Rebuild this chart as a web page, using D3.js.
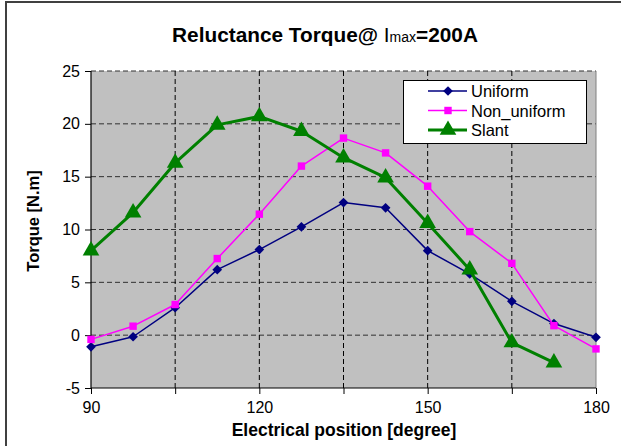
<!DOCTYPE html>
<html>
<head>
<meta charset="utf-8">
<script src="https://cdn.jsdelivr.net/npm/d3@7"></script>
<style>
  body { margin: 0; background: #fff; }
  svg text { font-family: "Liberation Sans", Arial, sans-serif; fill: #000; }
</style>
</head>
<body>
<svg id="chart" width="621" height="446"></svg>
<script>
// данные графика
const positions = [90, 97.5, 105, 112.5, 120, 127.5, 135, 142.5, 150, 157.5, 165, 172.5, 180];
const uniform = [-1.1, -0.15, 2.6, 6.2, 8.1, 10.25, 12.55, 12.05, 8.0, 5.8, 3.2, 1.1, -0.2];
const nonUniform = [-0.4, 0.85, 2.9, 7.25, 11.45, 16.0, 18.65, 17.25, 14.1, 9.8, 6.8, 0.9, -1.3];
const slant = [8.0, 11.6, 16.3, 19.9, 20.7, 19.3, 16.8, 14.9, 10.6, 6.2, -0.7, -2.6];
const yTicks = [-5, 0, 5, 10, 15, 20, 25];
const xTicks = [90, 105, 120, 135, 150, 165, 180];
const xLabels = [90, 120, 150, 180];

const svg = d3.select("#chart");

// рамка всей диаграммы (обрезана справа и снизу)
svg.append("rect")
  .attr("x", 6).attr("y", 2)
  .attr("width", 640).attr("height", 460)
  .attr("fill", "none")
  .attr("stroke", "#404040")
  .attr("stroke-width", 2);

const plotL = 91, plotR = 596, plotT = 71, plotB = 388;

const x = d3.scaleLinear().domain([90, 180]).range([plotL, plotR]);
const y = d3.scaleLinear().domain([-5, 25]).range([plotB, plotT]);

// фон области построения
svg.append("rect")
  .attr("x", plotL).attr("y", plotT)
  .attr("width", plotR - plotL).attr("height", plotB - plotT)
  .attr("fill", "#c0c0c0");

// сетка
svg.append("g")
  .selectAll("line")
  .data(yTicks.filter((d) => d > -5))
  .join("line")
  .attr("x1", plotL).attr("x2", plotR)
  .attr("y1", (d) => y(d)).attr("y2", (d) => y(d))
  .attr("stroke", "#303030")
  .attr("stroke-dasharray", "5,3");

svg.append("g")
  .selectAll("line")
  .data(xTicks.filter((d) => d > 90))
  .join("line")
  .attr("x1", (d) => x(d)).attr("x2", (d) => x(d))
  .attr("y1", plotT).attr("y2", plotB)
  .attr("stroke", (d) => (d === 180 ? "#808080" : "#000"))
  .attr("stroke-dasharray", (d) => (d === 180 ? null : "5,3"));

// оси
const yAxis = svg.append("g")
  .attr("transform", `translate(${plotL},0)`)
  .call(
    d3.axisLeft(y)
      .tickValues(yTicks)
      .tickSize(6)
      .tickPadding(5)
      .tickFormat((d) => String(d))
  );

const xAxis = svg.append("g")
  .attr("transform", `translate(0,${plotB})`)
  .call(
    d3.axisBottom(x)
      .tickValues(xTicks)
      .tickSize(6)
      .tickPadding(8)
      .tickFormat((d) => (xLabels.includes(d) ? d : ""))
  );

[yAxis, xAxis].forEach((g) => {
  g.select(".domain").attr("stroke", "#000").attr("stroke-width", 1.2);
  g.selectAll(".tick line").attr("stroke", "#000");
  g.selectAll("text")
    .attr("font-family", '"Liberation Sans", Arial, sans-serif')
    .attr("font-size", 16)
    .attr("fill", "#000");
});
yAxis.select(".domain").attr("d", `M0,${plotB}V${plotT}`);
xAxis.select(".domain").attr("d", `M${plotL},0H${plotR}`);

// заголовки
const title = svg.append("text")
  .attr("x", 325).attr("y", 42)
  .attr("text-anchor", "middle")
  .attr("font-size", 20.8)
  .attr("font-weight", "bold");
title.append("tspan").text("Reluctance Torque@ ");
title.append("tspan").attr("font-weight", "normal").text("I");
title.append("tspan").attr("font-weight", "normal").attr("font-size", 14).text("max");
title.append("tspan").text("=200A");

svg.append("text")
  .attr("x", 344).attr("y", 436)
  .attr("text-anchor", "middle")
  .attr("font-size", 17.5)
  .attr("font-weight", "bold")
  .text("Electrical position [degree]");

svg.append("text")
  .attr("transform", "translate(39,221) rotate(-90)")
  .attr("text-anchor", "middle")
  .attr("font-size", 16.5)
  .attr("font-weight", "bold")
  .text("Torque [N.m]");

// серии
const series = [
  { name: "Uniform", values: uniform, color: "#000080", width: 1.5, marker: d3.symbolDiamond2 || d3.symbolDiamond, size: 60 },
  { name: "Non_uniform", values: nonUniform, color: "#ff00ff", width: 1.5, marker: d3.symbolSquare, size: 55 },
  { name: "Slant", values: slant, color: "#008000", width: 3, marker: d3.symbolTriangle, size: 120 },
];

const line = d3.line()
  .x((d, i) => x(positions[i]))
  .y((d) => y(d));

series.forEach((s) => {
  svg.append("path")
    .datum(s.values)
    .attr("d", line)
    .attr("fill", "none")
    .attr("stroke", s.color)
    .attr("stroke-width", s.width)
    .attr("stroke-linejoin", "round");

  svg.append("g")
    .selectAll("path")
    .data(s.values)
    .join("path")
    .attr("d", d3.symbol().type(s.marker).size(s.size))
    .attr("transform", (d, i) => `translate(${x(positions[i])},${y(d)})`)
    .attr("fill", s.color);
});

// легенда
const legend = svg.append("g");
legend.append("rect")
  .attr("x", 403.5).attr("y", 80.5)
  .attr("width", 183).attr("height", 63)
  .attr("fill", "#fff")
  .attr("stroke", "#000");

series.forEach((s, i) => {
  const ly = 91 + i * 19.5;
  legend.append("line")
    .attr("x1", 428).attr("x2", 467)
    .attr("y1", ly).attr("y2", ly)
    .attr("stroke", s.color)
    .attr("stroke-width", s.width);
  legend.append("path")
    .attr("d", d3.symbol().type(s.marker).size(s.size))
    .attr("transform", `translate(448,${ly})`)
    .attr("fill", s.color);
  legend.append("text")
    .attr("x", 471).attr("y", ly + 6)
    .attr("font-size", 16.5)
    .text(s.name);
});
</script>
</body>
</html>
